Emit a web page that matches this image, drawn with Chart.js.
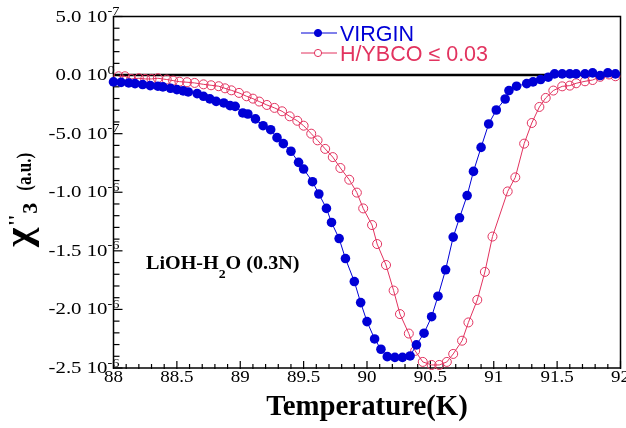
<!DOCTYPE html>
<html lang="en">
<head>
<meta charset="UTF-8">
<title>chi3'' vs temperature</title>
<script src="https://cdn.jsdelivr.net/npm/chart.js"></script>
<style>
  html, body { margin: 0; padding: 0; background: #fff; }
  #c { display: block; }
</style>
</head>
<body>
<canvas id="c" width="626" height="428"></canvas>
<script>
// temperature (K) and chi''_3 in units of 1e-7 a.u.
const virginT = [88.00, 88.06, 88.12, 88.17, 88.23, 88.29, 88.35, 88.39, 88.45, 88.50,
  88.55, 88.59, 88.66, 88.71, 88.76, 88.81, 88.87, 88.92, 88.96, 89.02,
  89.06, 89.12, 89.18, 89.24, 89.29, 89.34, 89.40, 89.46, 89.50, 89.57,
  89.62, 89.68, 89.72, 89.78, 89.83, 89.90, 89.95, 90.00, 90.06, 90.11,
  90.16, 90.22, 90.28, 90.34, 90.39, 90.45, 90.51, 90.56, 90.62, 90.68,
  90.73, 90.79, 90.84, 90.90, 90.96, 91.02, 91.09, 91.12, 91.18, 91.26,
  91.31, 91.37, 91.43, 91.48, 91.54, 91.60, 91.65, 91.72, 91.78, 91.84,
  91.90, 91.96];
const virginChi = [-0.58, -0.62, -0.67, -0.73, -0.81, -0.90, -0.95, -1.01, -1.13, -1.24,
  -1.35, -1.44, -1.58, -1.81, -2.03, -2.24, -2.38, -2.61, -2.67, -3.23,
  -3.32, -3.74, -4.32, -4.66, -5.34, -5.85, -6.50, -7.45, -8.02, -9.10,
  -10.15, -11.38, -12.58, -13.95, -15.66, -17.62, -19.42, -21.04, -22.52, -23.40,
  -24.03, -24.09, -24.09, -23.97, -23.03, -22.03, -20.62, -18.87, -16.62, -13.83,
  -12.18, -10.28, -8.22, -6.17, -4.17, -2.98, -2.04, -1.32, -0.95, -0.73,
  -0.58, -0.38, -0.18, 0.10, 0.10, 0.10, 0.10, 0.10, 0.19, -0.04,
  0.19, 0.10];

const hybcoT = [88.04, 88.09, 88.14, 88.20, 88.25, 88.30, 88.35, 88.42, 88.47, 88.52,
  88.58, 88.64, 88.71, 88.77, 88.83, 88.88, 88.93, 88.99, 89.05, 89.10,
  89.15, 89.21, 89.27, 89.33, 89.39, 89.45, 89.50, 89.56, 89.61, 89.67,
  89.73, 89.79, 89.86, 89.92, 89.97, 90.04, 90.08, 90.15, 90.21, 90.26,
  90.33, 90.38, 90.44, 90.51, 90.57, 90.63, 90.68, 90.75, 90.80, 90.87,
  90.93, 90.99, 91.11, 91.17, 91.24, 91.30, 91.36, 91.41, 91.47, 91.54,
  91.60, 91.65, 91.72, 91.78, 91.84, 91.91, 91.96];
const hybcoChi = [-0.10, -0.10, -0.33, -0.27, -0.33, -0.33, -0.27, -0.38, -0.47, -0.56,
  -0.61, -0.67, -0.79, -0.87, -0.95, -1.13, -1.30, -1.52, -1.81, -2.01,
  -2.26, -2.55, -2.80, -3.09, -3.52, -3.90, -4.32, -5.00, -5.57, -6.30,
  -7.00, -7.93, -8.93, -10.03, -11.38, -12.80, -14.42, -16.21, -18.39, -20.40,
  -22.06, -23.54, -24.48, -24.74, -24.74, -24.48, -23.80, -22.67, -21.11, -19.19,
  -16.80, -13.78, -9.93, -8.73, -5.85, -4.09, -2.72, -1.95, -1.32, -0.96,
  -0.90, -0.70, -0.53, -0.42, -0.15, 0.05, -0.10];

const seriesNames = ['VIRGIN', 'H/YBCO \u2264 0.03'];
const xTicks = [88, 88.5, 89, 89.5, 90, 90.5, 91, 91.5, 92];
const xTickLabels = ['88', '88.5', '89', '89.5', '90', '90.5', '91', '91.5', '92'];
const yTicks = [5, 0, -5, -10, -15, -20, -25];
const yTickMant = ['5.0 10', '0.0 10', '-5.0 10', '-1.0 10', '-1.5 10', '-2.0 10', '-2.5 10'];
const yTickExp = ['-7', '0', '-7', '-6', '-6', '-6', '-6'];

const BLUE = '#0000d6';
const RED = '#e2335f';
const SERIF = '"Liberation Serif", "Times New Roman", serif';
const SANS = '"Liberation Sans", Arial, sans-serif';

// draws text with a horizontal stretch, returns drawn width
function txt(ctx, s, x, y, font, color, sx, align) {
  ctx.save();
  ctx.font = font;
  ctx.fillStyle = color;
  ctx.textBaseline = 'alphabetic';
  ctx.translate(x, y);
  ctx.scale(sx, 1);
  const w = ctx.measureText(s).width;
  const dx = align === 'right' ? -w : align === 'center' ? -w / 2 : 0;
  ctx.fillText(s, dx, 0);
  ctx.restore();
  return w * sx;
}

function seg(ctx, x1, y1, x2, y2) {
  ctx.beginPath();
  ctx.moveTo(x1, y1);
  ctx.lineTo(x2, y2);
  ctx.stroke();
}

const decor = {
  id: 'decor',
  beforeDatasetsDraw(chart) {
    const { ctx, chartArea: a, scales: { x, y } } = chart;
    ctx.save();

    // zero line
    const y0 = y.getPixelForValue(0);
    ctx.strokeStyle = '#000';
    ctx.lineWidth = 2.5;
    seg(ctx, a.left, y0, a.right, y0);

    // frame
    ctx.lineWidth = 1.5;
    ctx.strokeRect(a.left, a.top, a.right - a.left, a.bottom - a.top);

    // ticks, drawn inward
    ctx.lineWidth = 1.2;
    for (let i = 0; i <= 40; i++) {
      const px = x.getPixelForValue(88 + i * 0.1);
      const len = i % 5 === 0 ? 7 : 4;
      seg(ctx, px, a.bottom + 1, px, a.bottom - len);
    }
    for (let j = -25; j <= 5; j++) {
      const py = y.getPixelForValue(j);
      const len = j % 5 === 0 ? 9 : 6;
      seg(ctx, a.left, py, a.left + len, py);
    }

    // x tick labels
    xTicks.forEach((v, i) => {
      txt(ctx, xTickLabels[i], x.getPixelForValue(v), a.bottom + 14, '17px ' + SERIF, '#000', 1.12, 'center');
    });

    // y tick labels with superscript exponent
    yTicks.forEach((v, i) => {
      const py = y.getPixelForValue(v);
      txt(ctx, yTickMant[i], a.left - 6, py + 5, '16px ' + SERIF, '#000', 1.3, 'right');
      txt(ctx, yTickExp[i], a.left - 6, py - 1.5, '12px ' + SERIF, '#000', 1.2, 'left');
    });

    // axis titles
    txt(ctx, 'Temperature(K)', (a.left + a.right) / 2, 415, 'bold 30px ' + SERIF, '#000', 0.96, 'center');

    ctx.save();
    ctx.translate(31, 247);
    ctx.rotate(-Math.PI / 2);
    ctx.scale(1, 1.2);
    let cx = 0;
    cx += txt(ctx, '\u03c7', cx, 0, 'bold 32px ' + SERIF, '#000', 1.3, 'left');
    cx += 2;
    const qw = txt(ctx, '\'\'', cx, -7, 'bold 18px ' + SERIF, '#000', 1.1, 'left');
    cx += qw + 1;
    cx += txt(ctx, '3', cx, 5, 'bold 17px ' + SERIF, '#000', 1.3, 'left');
    cx += 12;
    txt(ctx, '(a.u.)', cx, 0, 'bold 17px ' + SERIF, '#000', 1, 'left');
    ctx.restore();

    // annotation
    let ax = 146;
    ax += txt(ctx, 'LiOH-H', ax, 269, 'bold 19px ' + SERIF, '#000', 1.06, 'left');
    ax += txt(ctx, '2', ax, 278, 'bold 13px ' + SERIF, '#000', 1.06, 'left');
    txt(ctx, 'O (0.3N)', ax, 269, 'bold 19px ' + SERIF, '#000', 1.06, 'left');

    // legend
    const rows = [[BLUE, 33, true], [RED, 53, false]];
    rows.forEach(([col, ly, filled], i) => {
      ctx.strokeStyle = col;
      ctx.lineWidth = 1;
      seg(ctx, 301, ly, 337, ly);
      ctx.beginPath();
      ctx.arc(318, ly, 3.6, 0, Math.PI * 2);
      ctx.fillStyle = filled ? col : '#fff';
      ctx.fill();
      ctx.stroke();
      txt(ctx, seriesNames[i], 340, ly + 8, '21.5px ' + SANS, col, 1, 'left');
    });

    ctx.restore();
  }
};

new Chart(document.getElementById('c'), {
  type: 'scatter',
  data: {
    datasets: [
      {
        label: seriesNames[0],
        data: virginT.map((t, i) => ({ x: t, y: virginChi[i] })),
        showLine: true,
        borderColor: BLUE,
        borderWidth: 1,
        backgroundColor: BLUE,
        pointRadius: 4.8,
        pointBorderWidth: 0,
        clip: false
      },
      {
        label: seriesNames[1],
        data: hybcoT.map((t, i) => ({ x: t, y: hybcoChi[i] })),
        showLine: true,
        borderColor: RED,
        borderWidth: 1,
        backgroundColor: 'rgba(255,255,255,0)',
        pointBorderColor: RED,
        pointBackgroundColor: 'rgba(255,255,255,0)',
        pointRadius: 4.5,
        pointBorderWidth: 1,
        clip: false
      }
    ]
  },
  options: {
    responsive: false,
    animation: false,
    devicePixelRatio: 1,
    layout: { padding: { left: 0, right: 5, top: 16.5, bottom: 0 } },
    plugins: { legend: { display: false }, tooltip: { enabled: false } },
    scales: {
      x: {
        type: 'linear', min: 88, max: 92,
        ticks: { display: false },
        grid: { display: false },
        border: { display: false },
        afterFit(s) { s.height = 60; }
      },
      y: {
        type: 'linear', min: -25, max: 5,
        ticks: { display: false },
        grid: { display: false },
        border: { display: false },
        afterFit(s) { s.width = 113.5; }
      }
    }
  },
  plugins: [decor]
});
</script>
</body>
</html>
